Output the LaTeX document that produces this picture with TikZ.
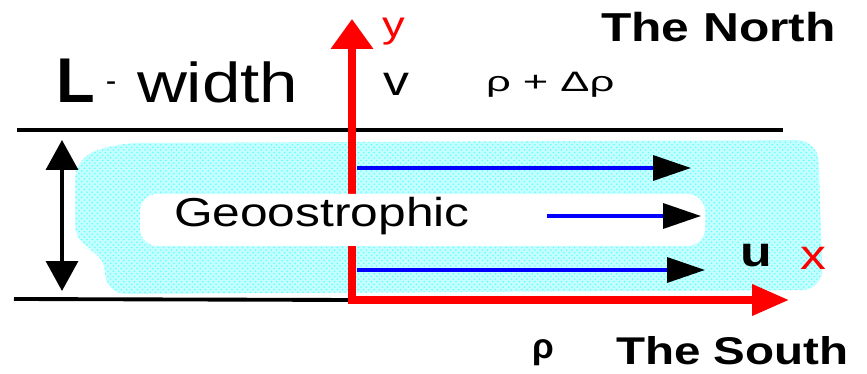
\documentclass[tikz,border=0pt]{standalone}
\usepackage{fontspec}
\setmainfont{Liberation Sans}
\newfontfamily\widesans[FakeStretch=1.23]{Liberation Sans}
\newfontfamily\greeksans[FakeStretch=1.55]{Liberation Sans}
\usetikzlibrary{arrows.meta, patterns}
\definecolor{speck}{RGB}{90,255,255}

\begin{document}
\begin{tikzpicture}[
    x=0.02cm, y=-0.02cm,
    inner sep=0pt, outer sep=0pt,
    band/.style={fill=speck!35, postaction={pattern=crosshatch dots, pattern color=speck}},
    calm/.style={fill=white, rounded corners=10},
    wall/.style={line width=2.2pt},
    axis/.style={red, line width=4pt},
    flow/.style={blue, line width=2pt,
      -{Triangle[length=0.76cm, width=0.5cm, sep=0.14cm, color=black]}},
    span/.style={line width=2pt,
      {Triangle[length=0.6cm, width=0.64cm, sep=0.06cm]}-{Triangle[length=0.6cm, width=0.64cm, sep=0.06cm]}},
    lab/.style={anchor=base west, font=\widesans\fontsize{24}{24}\selectfont}
  ]
    \useasboundingbox (0,0) rectangle (867,374);

    % the current band
    \path[band, rounded corners=12] (75,158) -- (118,143) -- (818,140) -- (823,290)
      -- (105,294) -- (105,252) -- (75,246) -- cycle;

    % channel walls and axes
    \coordinate (nw) at (17,130);
    \coordinate (ne) at (783,130);
    \coordinate (sw) at (14,299);
    \coordinate (O) at (352,300);
    \coordinate (ytip) at (352,13);
    \coordinate (xtip) at (800,300);
    \draw[wall] (nw) -- (ne);
    \draw[wall] (sw) -- (O);
    \draw[axis, -{Triangle[length=0.6cm, width=0.82cm, sep=0.12cm]}] ([yshift=-2pt]O) -- (ytip);
    \draw[axis, -{Triangle[length=0.74cm, width=0.6cm, sep=0.22cm]}] ([xshift=-2pt]O) -- (xtip);

    \path[calm] (140,194) rectangle (705,246);

    % width of the channel
    \coordinate (Ltop) at (62,137);
    \coordinate (Lbot) at (62,294);
    \draw[span] (Lbot) -- (Ltop);

    % geostrophic flow
    \coordinate (f1s) at (357,168);
    \coordinate (f1e) at (698,168);
    \coordinate (f2s) at (547,216);
    \coordinate (f2e) at (708,216);
    \coordinate (f3s) at (357,270);
    \coordinate (f3e) at (712,270);
    \draw[flow] (f1s) -- (f1e);
    \draw[flow] (f2s) -- (f2e);
    \draw[flow] (f3s) -- (f3e);

    % labels
    \node[anchor=base west, font=\fontsize{36}{36}\selectfont\bfseries] (L) at (56,103) {L};
    \node[anchor=base west, font=\fontsize{18}{18}\selectfont] (dash) at (106,92) {-};
    \node[lab, font=\widesans\fontsize{32}{32}\selectfont] (width) at (137,103) {width};
    \node[lab] (v) at (383,96) {v};
    \node[anchor=base west, font=\greeksans\fontsize{16}{16}\selectfont] (press) at (486,92) {ρ + Δρ};
    \node[lab, red, font=\widesans\fontsize{21}{21}\selectfont] (ylab) at (382,38) {y};
    \node[lab, red] (xlab) at (800,270) {x};
    \node[lab, font=\widesans\fontsize{24}{24}\selectfont\bfseries] (ulab) at (740,267) {u};
    \node[lab, font=\widesans\fontsize{23}{23}\selectfont] (geo) at (174,227) {Geoostrophic};
    \node[lab, font=\widesans\fontsize{23}{23}\selectfont\bfseries] (north) at (601,42) {The North};
    \node[lab, font=\widesans\fontsize{22}{22}\selectfont\bfseries] (south) at (616,365) {The South};
    \node[anchor=base west, font=\fontsize{20}{20}\selectfont\bfseries] (rho) at (532,359) {ρ};
  \end{tikzpicture}
\end{document}
